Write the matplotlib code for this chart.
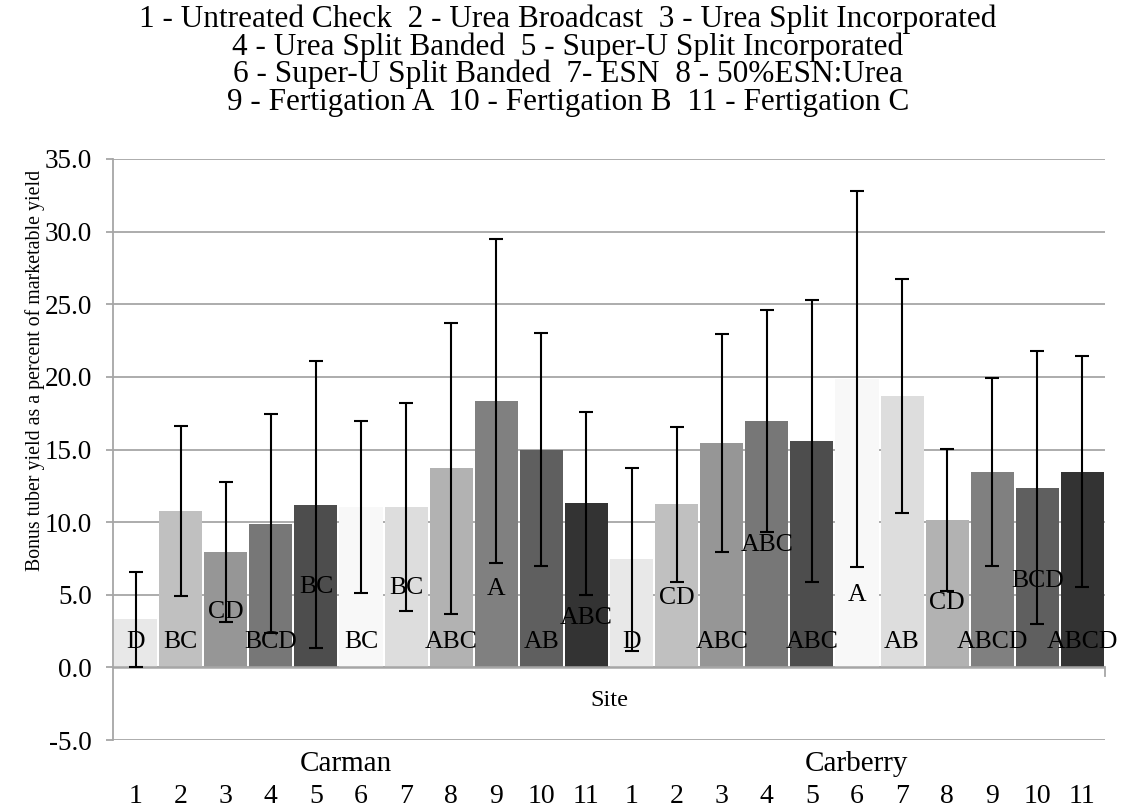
import matplotlib
matplotlib.use("Agg")
import matplotlib.pyplot as plt
import matplotlib.transforms as mtransforms
from matplotlib.ticker import FormatStrFormatter
import numpy as np

plt.rcParams['font.family'] = ['Liberation Serif', 'DejaVu Serif']

# Chart text
title_lines = [
    "1 - Untreated Check  2 - Urea Broadcast  3 - Urea Split Incorporated",
    "4 - Urea Split Banded  5 - Super-U Split Incorporated",
    "6 - Super-U Split Banded  7- ESN  8 - 50%ESN:Urea",
    "9 - Fertigation A  10 - Fertigation B  11 - Fertigation C",
]
ylabel = "Bonus tuber yield as a percent of marketable yield"
xlabel = "Site"
sites = ["Carman", "Carberry"]
treatments = [str(i) for i in range(1, 12)]

# Bonus tuber yield (% of marketable) and error bar half-widths
carman_yield = [3.3, 10.75, 7.95, 9.9, 11.2, 11.05, 11.05, 13.7, 18.35, 15.0, 11.3]
carman_err = [3.3, 5.85, 4.8, 7.55, 9.9, 5.9, 7.15, 10.0, 11.15, 8.05, 6.3]
carberry_yield = [7.45, 11.22, 15.46, 16.98, 15.58, 19.84, 18.7, 10.14, 13.44, 12.37, 13.47]
carberry_err = [6.3, 5.35, 7.5, 7.65, 9.7, 12.95, 8.06, 4.88, 6.46, 9.41, 7.97]

# mean separation letters and the height they sit at
carman_letters = ["D", "BC", "CD", "BCD", "BC", "BC", "BC", "ABC", "A", "AB", "ABC"]
carman_letter_y = [1.75, 1.75, 3.8, 1.75, 5.5, 1.75, 5.45, 1.75, 5.4, 1.75, 3.4]
carberry_letters = ["D", "CD", "ABC", "ABC", "ABC", "A", "AB", "CD", "ABCD", "BCD", "ABCD"]
carberry_letter_y = [1.75, 4.78, 1.75, 8.4, 1.75, 4.96, 1.75, 4.41, 1.75, 5.98, 1.75]

bar_colors = ["#e8e8e8", "#c0c0c0", "#969696", "#777777", "#4d4d4d", "#f8f8f8",
              "#dddddd", "#b2b2b2", "#808080", "#5f5f5f", "#333333"]

GRID = "#a6a6a6"

yields = carman_yield + carberry_yield
errs = carman_err + carberry_err
letters = carman_letters + carberry_letters
letter_y = carman_letter_y + carberry_letter_y
x = np.arange(len(yields))

fig = plt.figure(figsize=(11.22, 8.09), dpi=100)
ax = fig.add_axes([113 / 1122, 1 - 740 / 809, 992 / 1122, 581 / 809])

ax.bar(x, yields, width=0.954, color=bar_colors * len(sites), zorder=2)
ax.errorbar(x, yields, yerr=errs, fmt='none', ecolor='black', elinewidth=1.5,
            capsize=4.7, capthick=1.5, zorder=4)

ax.set_xlim(-0.5, len(yields) - 0.5)
ax.set_ylim(-5, 35)
ax.set_yticks(np.arange(-5, 36, 5))
ax.yaxis.set_major_formatter(FormatStrFormatter('%.1f'))
ax.grid(axis='y', color=GRID, lw=1.3, zorder=0)
ax.set_axisbelow(True)
for s in ['top', 'right', 'bottom']:
    ax.spines[s].set_visible(False)
ax.spines['left'].set_color(GRID)
ax.spines['left'].set_linewidth(1.3)
ax.tick_params(axis='y', direction='out', length=5, width=1.3, color=GRID,
               labelsize=19.5, pad=10)
ax.tick_params(axis='x', bottom=False, labelbottom=False)

# category axis at zero
ax.axhline(0, color=GRID, lw=1.8, zorder=3)
ax.plot([x[-1] + 0.5] * 2, [0, -0.6], color=GRID, lw=1.3, clip_on=False, zorder=3)

for xi, lab, ly in zip(x, letters, letter_y):
    ax.text(xi, ly, lab, ha='center', va='center', fontsize=18.5, zorder=5)

ax.text(0.5, -2.3, xlabel, transform=mtransforms.blended_transform_factory(ax.transAxes, ax.transData),
        ha='center', va='center', fontsize=17.5)

trans = mtransforms.blended_transform_factory(ax.transData, ax.transAxes)
n = len(treatments)
site_label_x = [4.67, 16.0]
for k, site in enumerate(sites):
    ax.text(site_label_x[k], -0.0413, site, transform=trans, ha='center',
            va='center', fontsize=21, clip_on=False)
    for j, t in enumerate(treatments):
        ax.text(k * n + j, -0.0975, t, transform=trans, ha='center', va='center',
                fontsize=20, clip_on=False)

fig.text(35 / 1122, 1 - 370 / 809, ylabel, rotation=90, ha='center', va='center', fontsize=14.3)

for line, base in zip(title_lines, [27, 55, 82, 110]):
    fig.text(568 / 1122, 1 - base / 809, line, ha='center', va='baseline', fontsize=22.5)

fig.savefig("out.png", dpi=100)
